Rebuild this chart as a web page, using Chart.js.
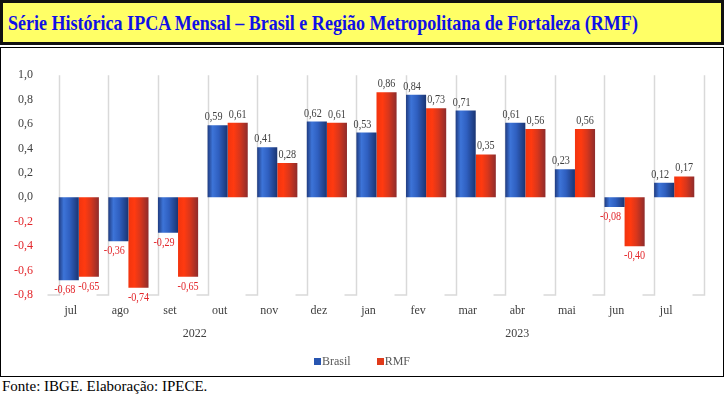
<!DOCTYPE html>
<html>
<head>
<meta charset="utf-8">
<script src="https://cdn.jsdelivr.net/npm/chart.js@4"></script>
<style>
  body { margin: 0; width: 724px; height: 396px; background: #fff; position: relative; overflow: hidden; font-family: "Liberation Serif", "Times New Roman", serif; }
  #title { position: absolute; left: 0; top: 0; width: 724px; height: 45px; box-sizing: border-box; border: 3px solid #111; background: #ffff66; }
  #title span { position: absolute; left: 5px; top: 8px; font-weight: bold; font-size: 21px; color: #1010e6; white-space: nowrap; transform-origin: left top; }
  #box { position: absolute; left: 0; top: 47px; width: 724px; height: 330px; box-sizing: border-box; border: 1px solid #000; }
  #chart { position: absolute; left: 0; top: 47px; }
  #legend { position: absolute; top: 354px; left: 0; width: 724px; text-align: center; font-size: 12px; color: #595959; }
  #legend i { display: inline-block; width: 7px; height: 7px; margin-right: 1px; }
  #legend b { font-weight: normal; margin: 0 13px; }
  #source { position: absolute; left: 2px; top: 378px; font-size: 15px; color: #000; }
</style>
</head>
<body>
<div id="title"><span>Série Histórica IPCA Mensal – Brasil e Região Metropolitana de Fortaleza (RMF)</span></div>
<div id="box"></div>
<canvas id="chart" width="724" height="330"></canvas>
<div id="legend"><b><i style="background:#2855b0"></i>Brasil</b><b><i style="background:#e03a1a"></i>RMF</b></div>
<div id="source">Fonte: IBGE. Elaboração: IPECE.</div>
<script>
const months = ["jul", "ago", "set", "out", "nov", "dez", "jan", "fev", "mar", "abr", "mai", "jun", "jul"];
const brasil = [-0.68, -0.36, -0.29, 0.59, 0.41, 0.62, 0.53, 0.84, 0.71, 0.61, 0.23, -0.08, 0.12];
const rmf = [-0.65, -0.74, -0.65, 0.61, 0.28, 0.61, 0.86, 0.73, 0.35, 0.56, 0.56, -0.40, 0.17];
const years = ["2022", "2023"];
const yearFirst = [0, 6];
const yearLast = [5, 12];

const GRAY = "#404040";
const RED = "#e3262b";
const LABEL_SHIFT = -8;
const CAT_PCT = 0.81;
const SERIF = "'Liberation Serif', 'Times New Roman', serif";

const fmt = (v, d) => v.toFixed(d).replace(".", ",");

const gradients = [
  [[0, "#1f3b80"], [0.25, "#3d74d8"], [0.55, "#2f5fc0"], [1, "#1a3572"]],
  [[0, "#f2340e"], [0.3, "#ff3a10"], [0.6, "#d8361c"], [1, "#8e2c2c"]],
];

// separators sit at the left edge of each pair of bars, like the excel original
const categoryLines = {
  id: "categoryLines",
  beforeDatasetsDraw(chart) {
    const ctx = chart.ctx;
    const x = chart.scales.x;
    const area = chart.chartArea;
    const w = x.getPixelForValue(1) - x.getPixelForValue(0);
    ctx.save();
    ctx.strokeStyle = "#d9d9d9";
    ctx.lineWidth = 1.5;
    for (let i = 0; i <= months.length; i++) {
      const gx = Math.round(x.getPixelForValue(0) + i * w - (w * CAT_PCT) / 2) + 0.5;
      ctx.beginPath();
      ctx.moveTo(gx, area.top);
      ctx.lineTo(gx, area.bottom);
      ctx.lineTo(gx - 12, area.bottom);
      ctx.stroke();
    }
    ctx.restore();
  },
};

// each bar gets its own horizontal shading
const barShade = {
  id: "barShade",
  beforeDatasetsDraw(chart) {
    const ctx = chart.ctx;
    chart.data.datasets.forEach((ds, i) => {
      chart.getDatasetMeta(i).data.forEach((el) => {
        const g = ctx.createLinearGradient(el.x - el.width / 2, 0, el.x + el.width / 2, 0);
        gradients[i].forEach((s) => g.addColorStop(s[0], s[1]));
        el.options = Object.assign({}, el.options, { backgroundColor: g });
      });
    });
  },
};

const labelNudge = [-4, 0];

const valueLabels = {
  id: "valueLabels",
  afterDatasetsDraw(chart) {
    const ctx = chart.ctx;
    chart.data.datasets.forEach((ds, i) => {
      chart.getDatasetMeta(i).data.forEach((el, j) => {
        const v = ds.data[j];
        ctx.save();
        ctx.font = "13px " + SERIF;
        ctx.textAlign = "center";
        if (v >= 0) {
          ctx.fillStyle = GRAY;
          ctx.textBaseline = "bottom";
          ctx.translate(el.x + labelNudge[i], el.y - 2);
        } else {
          ctx.fillStyle = RED;
          ctx.textBaseline = "top";
          ctx.translate(el.x + labelNudge[i], el.y + 3);
        }
        ctx.scale(0.78, 1);
        ctx.fillText(fmt(v, 2), 0, 0);
        ctx.restore();
      });
    });
  },
};

const yearLabels = {
  id: "yearLabels",
  afterDraw(chart) {
    const ctx = chart.ctx;
    const x = chart.scales.x;
    ctx.save();
    ctx.font = "12px " + SERIF;
    ctx.fillStyle = GRAY;
    ctx.textAlign = "center";
    ctx.textBaseline = "middle";
    years.forEach((y, k) => {
      const px = (x.getPixelForValue(yearFirst[k]) + x.getPixelForValue(yearLast[k])) / 2 + LABEL_SHIFT;
      ctx.fillText(y, px, chart.chartArea.bottom + 39);
    });
    ctx.restore();
  },
};

function draw() {
  const titleSpan = document.querySelector("#title span");
  titleSpan.style.transform = "scaleX(" + (630 / titleSpan.offsetWidth) + ")";

  new Chart(document.getElementById("chart"), {
    type: "bar",
    data: {
      labels: months,
      datasets: [
        { label: "Brasil", data: brasil, backgroundColor: "#2f5fc0" },
        { label: "RMF", data: rmf, backgroundColor: "#e03a1a" },
      ],
    },
    options: {
      responsive: false,
      animation: false,
      layout: { padding: { top: 18, right: 25, bottom: 47, left: 0 } },
      datasets: { bar: { categoryPercentage: CAT_PCT, barPercentage: 1.0 } },
      plugins: { legend: { display: false }, tooltip: { enabled: false } },
      scales: {
        x: {
          offset: true,
          grid: { display: false, drawTicks: false },
          border: { display: false },
          ticks: {
            color: GRAY,
            font: { family: SERIF, size: 12 },
            padding: 9,
            labelOffset: LABEL_SHIFT,
            maxRotation: 0,
            autoSkip: false,
          },
          afterFit: (s) => { s.height = 35; },
        },
        y: {
          min: -0.8,
          max: 1.0,
          grid: { display: false, drawTicks: false },
          border: { display: false },
          ticks: {
            stepSize: 0.2,
            padding: 21,
            font: { family: SERIF, size: 12 },
            color: (c) => (c.tick.value < -0.001 ? RED : GRAY),
            callback: (v) => fmt(v, 1),
          },
          afterFit: (s) => { s.width = 54; },
        },
      },
    },
    plugins: [categoryLines, barShade, valueLabels, yearLabels],
  });
}

Promise.all([
  document.fonts.load("12px 'Liberation Serif'"),
  document.fonts.load("bold 21px 'Liberation Serif'"),
]).then(draw, draw);
</script>
</body>
</html>
